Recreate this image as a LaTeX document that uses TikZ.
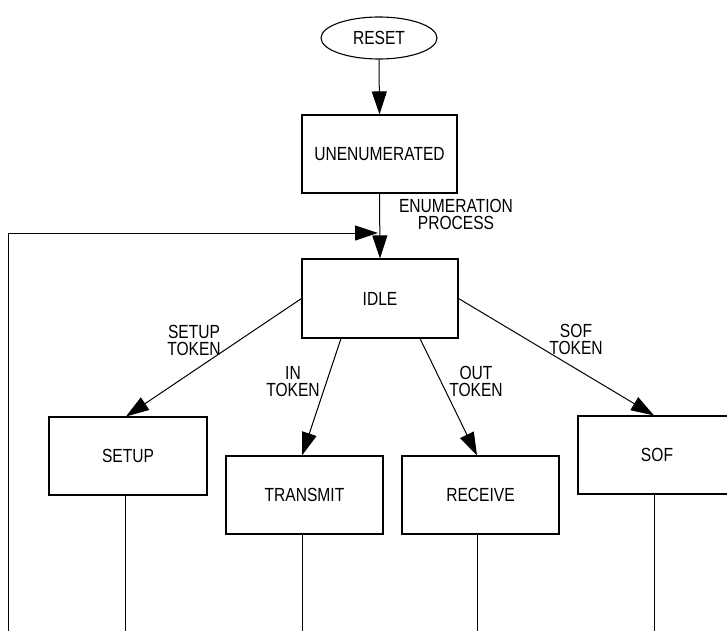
\documentclass[tikz,border=0pt]{standalone}
\usepackage{fontspec}
\setmainfont{Liberation Sans}[FakeStretch=0.82]
\usetikzlibrary{arrows.meta,shapes.geometric}
\begin{document}
\begin{tikzpicture}[x=1pt,y=-1pt,
  every node/.style={font=\fontsize{19}{17}\selectfont},
  box/.style={draw,line width=1.1pt,rectangle,inner sep=0pt,minimum width=157pt,minimum height=78pt},
  oval/.style={draw,line width=1.1pt,ellipse,inner sep=0pt,minimum width=116pt,minimum height=42pt},
  lbl/.style={align=center,inner sep=0pt},
  conn/.style={line width=1pt},
  arr/.style={line width=1pt,-{Triangle[length=23pt,width=15pt]}}]
\useasboundingbox (0,0) rectangle (727,631);
% nodes
\node[oval] (reset) at (379,38) {RESET};
\node[box,minimum width=155pt] (unenum) at (379.5,154) {UNENUMERATED};
\node[box,minimum width=156pt,minimum height=79pt] (idle) at (380,298.5) {IDLE};
\node[box,minimum width=158pt] (setup) at (128,456) {SETUP};
\node[box] (transmit) at (304.5,495) {TRANSMIT};
\node[box] (receive) at (480.5,495) {RECEIVE};
\node[box,minimum width=158pt] (sof) at (657,455) {SOF};
% labels
\node[lbl] (lenum) at (456,214) {ENUMERATION\\PROCESS};
\node[lbl] (lsetup) at (194,340.5) {SETUP\\TOKEN};
\node[lbl] (lin) at (293,382) {IN\\TOKEN};
\node[lbl] (lout) at (476,381.5) {OUT\\TOKEN};
\node[lbl] (lsof) at (576,339.5) {SOF\\TOKEN};
% coordinates
\coordinate (lb) at (8,631);
\coordinate (lt) at (8,233);
\coordinate (le) at (378,233);
\coordinate (sb) at (125,631);
\coordinate (tb) at (302,631);
\coordinate (rb) at (477,631);
\coordinate (fb) at (654,631);
% connectors
\draw[arr] (reset.south) -- (unenum.north);
\draw[arr] (unenum.south) -- (idle.north);
\draw[arr] (lb) -- (lt) -- (le);
\draw[arr] (idle.west) -- ([xshift=-2pt]setup.north);
\draw[arr] ([xshift=-39pt]idle.south) -- ([xshift=-2.5pt]transmit.north);
\draw[arr] ([xshift=40pt]idle.south) -- ([xshift=-3.5pt]receive.north);
\draw[arr] (idle.east) -- ([xshift=-3pt]sof.north);
\draw[conn] ([xshift=-3pt]setup.south) -- (sb);
\draw[conn] ([xshift=-2.5pt]transmit.south) -- (tb);
\draw[conn] ([xshift=-3.5pt]receive.south) -- (rb);
\draw[conn] ([xshift=-3pt]sof.south) -- (fb);
\end{tikzpicture}
\end{document}
